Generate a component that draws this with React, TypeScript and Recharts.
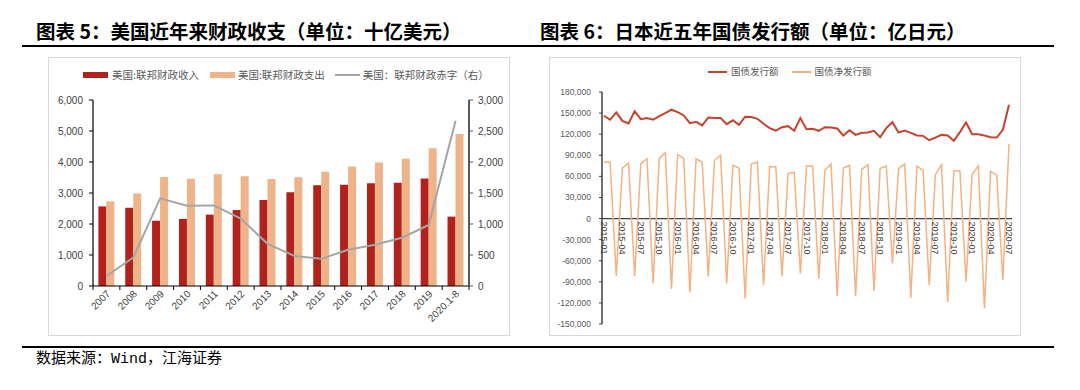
import React from 'react'
import { ComposedChart, LineChart, Bar, Line, XAxis, YAxis, ReferenceLine } from 'recharts'

// 图表5：美国财政收支（十亿美元）
const usYears = ['2007', '2008', '2009', '2010', '2011', '2012', '2013', '2014', '2015', '2016', '2017', '2018', '2019', '2020.1-8']
const usRevenue = [2568, 2524, 2105, 2163, 2303, 2450, 2775, 3021, 3250, 3268, 3316, 3329, 3464, 2238]
const usOutlays = [2729, 2983, 3518, 3457, 3603, 3537, 3455, 3506, 3688, 3853, 3982, 4108, 4447, 4905]
const usDeficit = [161, 459, 1413, 1294, 1300, 1087, 680, 485, 438, 585, 665, 779, 984, 2667]
const usLeftTicks = [0, 1000, 2000, 3000, 4000, 5000, 6000]
const usRightTicks = [0, 500, 1000, 1500, 2000, 2500, 3000]

// 图表6：日本国债发行额（亿日元），2015-01 ~ 2020-07
const jpIssue = [
  146200, 140500, 151000, 139000, 135200, 152400, 141400, 142900, 140500, 145700, 150000, 154800,
  151400, 146700, 135700, 137600, 132400, 143800, 142900, 142900, 134300, 140000, 133300, 144800,
  144300, 141900, 134800, 128600, 125200, 130000, 131400, 124800, 142900, 127100, 127600, 124800,
  130000, 129500, 128100, 118100, 125700, 119000, 121900, 122400, 124800, 115700, 128600, 137100,
  122400, 125200, 121900, 118100, 117600, 111400, 115200, 119000, 118100, 110500, 122900, 136700,
  120000, 120000, 118100, 115700, 115200, 126200, 161900,
]
const jpNet = [
  80300, 80000, -81500, 71800, 79000, -81500, 78000, 85000, -92000, 85500, 93600, -100000,
  90800, 85500, -105000, 85000, 80000, -82500, 82500, 90000, -92500, 75600, 71800, -113600,
  77500, 80500, -94700, 73600, 73600, -82500, 64300, 66000, -78000, 74700, 74700, -86000,
  68600, 77500, -110000, 71800, 75600, -110500, 70000, 76500, -103000, 71000, 74700, -64000,
  71000, 77500, -112600, 74700, 68600, -94700, 62400, 76500, -119000, 68000, 68000, -90000,
  63300, 74700, -127800, 67000, 61500, -87600, 106500,
]
const jpTicks = [-150000, -120000, -90000, -60000, -30000, 0, 30000, 60000, 90000, 120000, 150000, 180000]

const jpMonths: string[] = []
for (let y = 2015; y <= 2020; y++) {
  for (let m = 1; m <= 12; m++) {
    if (jpMonths.length < jpIssue.length) jpMonths.push(`${y}-${String(m).padStart(2, '0')}`)
  }
}

const usData = usYears.map((year, i) => ({
  year,
  revenue: usRevenue[i],
  outlays: usOutlays[i],
  deficit: usDeficit[i],
}))

const jpData = jpMonths.map((month, i) => ({
  month,
  issue: jpIssue[i],
  net: jpNet[i],
}))

const CJK = '"Noto Sans CJK SC", "Liberation Sans", sans-serif'
const NUM = '"Liberation Sans", "Noto Sans CJK SC", sans-serif'
const RED = '#B0221B'
const ORANGE = '#EEB388'
const GRAY = '#A5A5A5'
const JP_RED = '#C3432F'
const JP_ORANGE = '#F4B183'

const fmt = (v: number) => v.toLocaleString('en-US')

// left chart layout
const US_W = 462
const US_H = 279
const US_MARGIN = { top: 43, right: 3, bottom: 0, left: 5 }
const US_LEFT_AXIS_W = 40
const US_RIGHT_AXIS_W = 38
const US_BAND = (US_W - US_MARGIN.left - US_MARGIN.right - US_LEFT_AXIS_W - US_RIGHT_AXIS_W) / usYears.length

// right chart layout
const JP_W = 472
const JP_H = 279
const JP_X_AXIS_H = 1
const JP_MARGIN = { top: 35, right: 9, bottom: 11, left: 4 }
const JP_PLOT_H = JP_H - JP_MARGIN.top - JP_MARGIN.bottom - JP_X_AXIS_H
const JP_ZERO_SHIFT = (JP_PLOT_H * 150000) / 330000

const UsTick = (props: any) => {
  const { x, y, payload, index } = props
  const half = US_BAND / 2
  const tx = x + 2
  const ty = y + 6
  return (
    <g>
      <line x1={x - half} x2={x - half} y1={y} y2={y + 4} stroke="#000" strokeWidth={1} />
      {index === usYears.length - 1 && (
        <line x1={x + half} x2={x + half} y1={y} y2={y + 4} stroke="#000" strokeWidth={1} />
      )}
      <text
        x={tx}
        y={ty}
        dy="0.35em"
        transform={`rotate(-45 ${tx} ${ty})`}
        textAnchor="end"
        fontSize={10}
        fill="#404040"
        fontFamily={NUM}
      >
        {payload.value}
      </text>
    </g>
  )
}

const JpTick = (props: any) => {
  const { x, y, payload } = props
  const ty = y - JP_ZERO_SHIFT + 3
  return (
    <text
      x={0}
      y={0}
      dy={3}
      transform={`translate(${x},${ty}) rotate(90)`}
      textAnchor="start"
      fontSize={9}
      fill="#404040"
      fontFamily={NUM}
    >
      {payload.value}
    </text>
  )
}

const Rule = ({ top }: { top: number }) => (
  <div style={{ position: 'absolute', left: 22, top, width: 1032, height: 2, background: '#000' }} />
)

const Frame = ({ left, width }: { left: number; width: number }) => (
  <div
    style={{
      position: 'absolute',
      left,
      top: 57,
      width,
      height: 279,
      border: '1px solid #d9d9d9',
      boxSizing: 'border-box',
    }}
  />
)

const legendText = { whiteSpace: 'nowrap' as const }

export default function App() {
  return (
    <div
      style={{
        position: 'absolute',
        left: 0,
        top: 0,
        width: 1080,
        height: 390,
        background: '#fff',
        fontFamily: CJK,
        overflow: 'hidden',
      }}
    >
      <div style={{ position: 'absolute', left: 36, top: 20, fontSize: 19.5, fontWeight: 700, lineHeight: '22px', color: '#000', whiteSpace: 'nowrap' }}>
        图表 5：美国近年来财政收支（单位：十亿美元）
      </div>
      <div style={{ position: 'absolute', left: 540, top: 20, fontSize: 19.5, fontWeight: 700, lineHeight: '22px', color: '#000', whiteSpace: 'nowrap' }}>
        图表 6：日本近五年国债发行额（单位：亿日元）
      </div>
      <Rule top={45} />

      <Frame left={48} width={US_W} />
      <Frame left={549} width={JP_W} />

      {/* left legend */}
      <div style={{ position: 'absolute', left: 83, top: 68, display: 'flex', alignItems: 'center', fontSize: 10.5, lineHeight: '14px', color: '#595959' }}>
        <span style={{ width: 25, height: 6, background: RED, marginRight: 4 }} />
        <span style={{ ...legendText, marginRight: 11 }}>美国:联邦财政收入</span>
        <span style={{ width: 25, height: 6, background: ORANGE, marginRight: 3 }} />
        <span style={{ ...legendText, marginRight: 10 }}>美国:联邦财政支出</span>
        <span style={{ width: 25, height: 2, background: GRAY, marginRight: 3 }} />
        <span style={legendText}>美国：联邦财政赤字（右）</span>
      </div>

      <div style={{ position: 'absolute', left: 48, top: 57 }}>
        <ComposedChart
          width={US_W}
          height={US_H}
          data={usData}
          margin={US_MARGIN}
          barGap={0}
          barCategoryGap="20%"
        >
          <XAxis
            dataKey="year"
            interval={0}
            height={50}
            tickLine={false}
            tickSize={0}
            tickMargin={0}
            axisLine={{ stroke: '#000', strokeWidth: 1.2 }}
            tick={<UsTick />}
          />
          <YAxis
            yAxisId="l"
            domain={[0, 6000]}
            ticks={usLeftTicks}
            tickFormatter={fmt}
            width={US_LEFT_AXIS_W}
            axisLine={{ stroke: '#000', strokeWidth: 1.2 }}
            tickLine={{ stroke: '#000' }}
            tickSize={4}
            tickMargin={6}
            tick={{ fontSize: 10, fill: '#404040', fontFamily: NUM }}
          />
          <YAxis
            yAxisId="r"
            orientation="right"
            domain={[0, 3000]}
            ticks={usRightTicks}
            tickFormatter={fmt}
            width={US_RIGHT_AXIS_W}
            axisLine={{ stroke: '#595959', strokeWidth: 2 }}
            tickLine={{ stroke: '#595959' }}
            tickSize={4}
            tickMargin={5}
            tick={{ fontSize: 10, fill: '#404040', fontFamily: NUM }}
          />
          <Bar yAxisId="l" dataKey="revenue" fill={RED} isAnimationActive={false} />
          <Bar yAxisId="l" dataKey="outlays" fill={ORANGE} isAnimationActive={false} />
          <Line
            yAxisId="r"
            type="linear"
            dataKey="deficit"
            stroke={GRAY}
            strokeWidth={2}
            dot={false}
            activeDot={false}
            isAnimationActive={false}
          />
        </ComposedChart>
      </div>

      {/* right legend */}
      <div style={{ position: 'absolute', left: 708, top: 65, display: 'flex', alignItems: 'center', fontSize: 9.5, lineHeight: '13px', color: '#595959' }}>
        <span style={{ width: 19, height: 2, background: JP_RED, marginRight: 4 }} />
        <span style={{ ...legendText, marginRight: 13 }}>国债发行额</span>
        <span style={{ width: 19, height: 2, background: JP_ORANGE, marginRight: 4 }} />
        <span style={legendText}>国债净发行额</span>
      </div>

      <div style={{ position: 'absolute', left: 549, top: 57 }}>
        <LineChart width={JP_W} height={JP_H} data={jpData} margin={JP_MARGIN}>
          <XAxis
            dataKey="month"
            interval={2}
            height={JP_X_AXIS_H}
            axisLine={false}
            tickLine={false}
            tickSize={0}
            tickMargin={0}
            padding={{ left: 2, right: 3 }}
            tick={<JpTick />}
          />
          <YAxis
            domain={[-150000, 180000]}
            ticks={jpTicks}
            tickFormatter={fmt}
            width={49}
            axisLine={{ stroke: '#404040', strokeWidth: 1.5 }}
            tickLine={{ stroke: '#404040' }}
            tickSize={3}
            tickMargin={8}
            tick={{ fontSize: 8.5, fill: '#595959', fontFamily: NUM }}
          />
          <ReferenceLine y={0} stroke="#404040" strokeWidth={1.2} />
          <Line
            type="linear"
            dataKey="net"
            stroke={JP_ORANGE}
            strokeWidth={1.5}
            dot={false}
            activeDot={false}
            isAnimationActive={false}
          />
          <Line
            type="linear"
            dataKey="issue"
            stroke={JP_RED}
            strokeWidth={2}
            dot={false}
            activeDot={false}
            isAnimationActive={false}
          />
        </LineChart>
      </div>

      <Rule top={346} />
      <div style={{ position: 'absolute', left: 36, top: 351, fontSize: 15, lineHeight: '18px', color: '#000', whiteSpace: 'nowrap', fontFamily: '"Liberation Mono", "Noto Sans CJK SC", monospace' }}>
        数据来源：Wind，江海证券
      </div>
    </div>
  )
}
